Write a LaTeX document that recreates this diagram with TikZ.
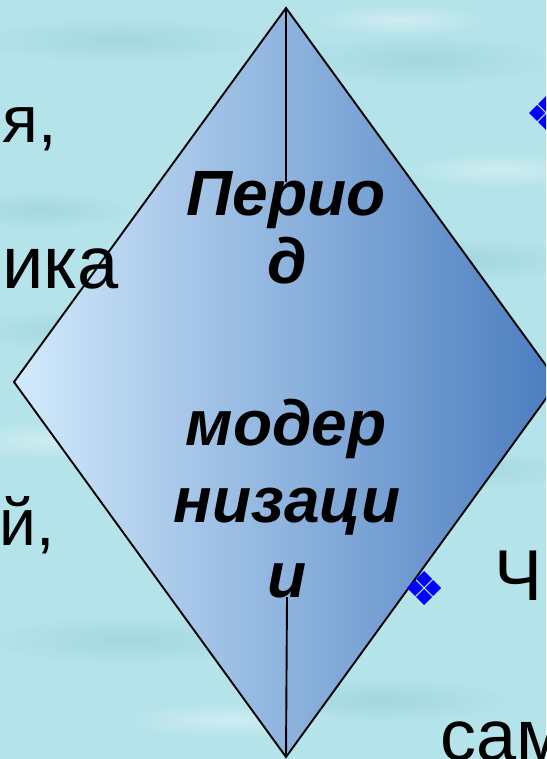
\documentclass[tikz,border=0pt]{standalone}
\usepackage{fontspec}
\setmainfont{Liberation Sans}
\definecolor{bgcyan}{HTML}{B4E3EA}
\definecolor{bgdark}{HTML}{9ACFD8}
\definecolor{dialight}{HTML}{D2EAFC}
\definecolor{diadark}{HTML}{4A7CBF}
\definecolor{bulletblue}{HTML}{0000FF}
\begin{document}
\begin{tikzpicture}[x=1pt,y=-1pt,
  edgetext/.style={inner sep=0pt,font=\fontsize{66}{70}\selectfont},
  bigedgetext/.style={inner sep=0pt,font=\fontsize{74}{80}\selectfont},
  centertext/.style={inner sep=0pt,anchor=base,font=\fontsize{64}{70}\selectfont\bfseries\itshape},
  outline/.style={draw=black,line width=1.9pt,line join=miter},
  petal/.style={fill=bulletblue}]
\useasboundingbox (0,0) rectangle (546,759);
\clip (0,0) rectangle (546,759);
% background
\fill[bgcyan] (0,0) rectangle (546,759);
\foreach \cx/\cy/\rx/\ry in {120/40/140/22, 420/60/130/25, 80/330/120/20, 470/260/110/22, 130/640/140/24, 460/470/120/20, 380/700/130/22, 40/210/90/18}
  \shade[inner color=bgdark, outer color=bgcyan, opacity=0.6] (\cx,\cy) ellipse [x radius=\rx, y radius=\ry];
\foreach \cx/\cy/\rx/\ry in {60/440/120/20, 500/170/100/18, 230/720/110/18, 400/20/90/16}
  \shade[inner color=white!60!bgcyan, outer color=bgcyan, opacity=0.6] (\cx,\cy) ellipse [x radius=\rx, y radius=\ry];
% diamond
\coordinate (top) at (286,8);
\coordinate (right) at (558,382);
\coordinate (bottom) at (286,757);
\coordinate (left) at (14,382);
\shade[left color=dialight,right color=diadark] (top)--(right)--(bottom)--(left)--cycle;
\draw[outline] (top)--(right)--(bottom)--(left)--cycle;
% centre text
\node[centertext] (l1) at (286,215) {Перио};
\node[centertext] (l2) at (287,283) {д};
\node[centertext] (l3) at (286,445) {модер};
\node[centertext] (l4) at (287,522) {низаци};
\node[centertext] (l5) at (287,597) {и};
% vertical divider
\coordinate (divtop) at (286,182);
\draw[black,line width=1.9pt] (top) -- (divtop);
\draw[black,line width=1.9pt] (l5.base) -- (bottom);
% edge texts
\node[edgetext,anchor=base east] (t1) at (57,143) {я,};
\node[bigedgetext,anchor=base east] (t2) at (119,288) {ика};
\node[edgetext,anchor=base east] (t3) at (55,545) {й,};
\node[edgetext,font=\fontsize{72}{80}\selectfont,anchor=base west] (t4) at (494,600) {Ч};
\node[edgetext,font=\fontsize{72}{80}\selectfont,anchor=base west] (t5) at (440,760) {сам};
% bullets
\coordinate (b1) at (424,588);
\coordinate (b2) at (546,113);
\foreach \b in {b1,b2}
  \foreach \dx/\dy in {-9/0,9/0,0/-9,0/9}
    \fill[petal,shift={(\b)},shift={(\dx,\dy)}] (0,-8)--(8,0)--(0,8)--(-8,0)--cycle;
\end{tikzpicture}
\end{document}
